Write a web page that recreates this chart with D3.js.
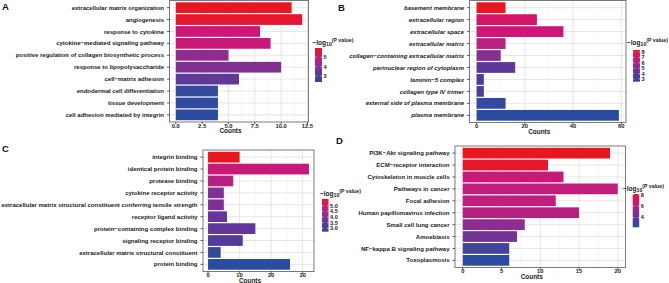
<!DOCTYPE html>
<html><head><meta charset="utf-8">
<script src="https://cdn.jsdelivr.net/npm/d3@7"></script>
<style>body{margin:0;background:#fff}svg{display:block;font-family:"Liberation Sans",Arial,sans-serif;font-weight:bold}</style>
</head><body><svg id="c" width="669" height="283"></svg>
<script>
// ---------- DATA ----------
const catsA = ["extracellular matrix organization","angiogenesis","response to cytokine","cytokine−mediated signaling pathway","positive regulation of collagen biosynthetic process","response to lipopolysaccharide","cell−matrix adhesion","endodermal cell differentiation","tissue development","cell adhesion mediated by integrin"];
const countsA = [11,12,8,9,5,10,6,4,4,4];
const logpA = [5.99,5.85,5.05,4.98,4.15,3.9,3.4,2.5,2.42,2.36];
const xTicksA = [0,2.5,5,7.5,10,12.5];
const xTickLabelsA = ["0.0","2.5","5.0","7.5","10.0","12.5"];
const legTicksA = [3,4,5];
const legLabelsA = ["3","4","5"];

const catsB = ["basement membrane","extracellular region","extracellular space","extracellular matrix","collagen−containing extracellular matrix","perinuclear region of cytoplasm","laminin−5 complex","collagen type IV trimer","external side of plasma membrane","plasma membrane"];
const countsB = [12,25,36,12,10,16,3,3,12,59];
const logpB = [8.4,7.2,6.9,6.4,5.2,4.1,3.9,3.7,2.7,2.5];
const xTicksB = [0,20,40,60];
const xTickLabelsB = ["0","20","40","60"];
const legTicksB = [3,4,5,6,7,8];
const legLabelsB = ["3","4","5","6","7","8"];

const catsC = ["integrin binding","identical protein binding","protease binding","cytokine receptor activity","extracellular matrix structural constituent conferring tensile strength","receptor ligand activity","protein−containing complex binding","signaling receptor binding","extracellular matrix structural constituent","protein binding"];
const countsC = [10,32,8,5,5,6,15,11,4,26];
const logpC = [5.6,4.8,4.6,3.9,3.85,3.6,3.55,3.4,2.8,2.7];
const xTicksC = [0,10,20,30];
const xTickLabelsC = ["0","10","20","30"];
const legTicksC = [3,3.5,4,4.5,5];
const legLabelsC = ["3.0","3.5","4.0","4.5","5.0"];

const catsD = ["PI3K−Akt signaling pathway","ECM−receptor interaction","Cytoskeleton in muscle cells","Pathways in cancer","Focal adhesion","Human papillomavirus infection","Small cell lung cancer","Amoebiasis","NF−kappa B signaling pathway","Toxoplasmosis"];
const countsD = [19,11,13,20,12,15,8,7,6,6];
const logpD = [8.1,7.9,6.5,6.3,6.2,6.1,5.1,4.4,3.0,2.3];
const xTicksD = [0,5,10,15,20];
const xTickLabelsD = ["0","5","10","15","20"];
const legTicksD = [4,6,8];
const legLabelsD = ["4","6","8"];

// ---------- COLOR ----------
const palette = d3.scaleLinear()
  .domain([0,0.25,0.5,0.75,1])
  .range(["#2B4B9E","#55399A","#922A8F","#CE1577","#E8171F"])
  .interpolate(d3.interpolateLab);

// ---------- LAYOUT ----------
const panels = [
 {letter:"A", lx:2, ly:10, cats:catsA, counts:countsA, logp:logpA, ticks:xTicksA, tickLabels:xTickLabelsA,
  x0:169.5, x1:308.5, y0:0.5, y1:122, italic:false,
  leg:{tx:312.5, ty:45, bx:315, bw:7, by0:82, by1:48, ticks:legTicksA, labels:legLabelsA}},
 {letter:"B", lx:338, ly:11, cats:catsB, counts:countsB, logp:logpB, ticks:xTicksB, tickLabels:xTickLabelsB,
  x0:469.5, x1:626, y0:0.5, y1:122.5, italic:true,
  leg:{tx:627, ty:44.5, bx:633, bw:7, by0:81.7, by1:50, ticks:legTicksB, labels:legLabelsB}},
 {letter:"C", lx:2, ly:152, cats:catsC, counts:countsC, logp:logpC, ticks:xTicksC, tickLabels:xTickLabelsC,
  x0:203, x1:314, y0:150, y1:271.5, italic:false,
  leg:{tx:320, ty:195.5, bx:322, bw:6.5, by0:231.7, by1:199, ticks:legTicksC, labels:legLabelsC}},
 {letter:"D", lx:336, ly:144, cats:catsD, counts:countsD, logp:logpD, ticks:xTicksD, tickLabels:xTickLabelsD,
  x0:455, x1:625.5, y0:146, y1:267.5, italic:false,
  leg:{tx:623, ty:190.5, bx:632.7, bw:6.5, by0:227.3, by1:194, ticks:legTicksD, labels:legLabelsD}}
];

const svg = d3.select("#c");
const textCol = "#1a1a1a";

panels.forEach(p => {
  const g = svg.append("g");
  const maxC = d3.max(p.counts);
  const x = d3.scaleLinear().domain([-0.05*maxC, 1.05*maxC]).range([p.x0, p.x1]);
  const y = d3.scalePoint().domain(p.cats).range([p.y0, p.y1]).padding(0.6);
  const step = y.step();
  const [lo, hi] = d3.extent(p.logp);
  const col = v => palette((v - lo) / (hi - lo));

  // minor grid
  const majorStep = p.ticks[1] - p.ticks[0];
  const minor = p.ticks.map(t => t + majorStep/2).concat([p.ticks[0]-majorStep/2])
     .filter(t => x(t) > p.x0 && x(t) < p.x1);
  g.selectAll(".mn").data(minor).enter().append("line")
    .attr("x1", d=>x(d)).attr("x2", d=>x(d)).attr("y1", p.y0).attr("y2", p.y1)
    .attr("stroke","#f1f1f1").attr("stroke-width",0.6);
  // major grid
  g.selectAll(".mj").data(p.ticks).enter().append("line")
    .attr("x1", d=>x(d)).attr("x2", d=>x(d)).attr("y1", p.y0).attr("y2", p.y1)
    .attr("stroke","#e3e3e3").attr("stroke-width",0.9);
  g.selectAll(".hg").data(p.cats).enter().append("line")
    .attr("x1", p.x0).attr("x2", p.x1).attr("y1", d=>y(d)).attr("y2", d=>y(d))
    .attr("stroke","#e3e3e3").attr("stroke-width",0.9);

  // bars
  g.selectAll(".bar").data(p.cats).enter().append("rect")
    .attr("x", x(0)).attr("y", d => y(d) - step*0.45)
    .attr("width", (d,i) => x(p.counts[i]) - x(0))
    .attr("height", step*0.9)
    .attr("fill", (d,i) => col(p.logp[i]));

  // border
  g.append("rect").attr("x", p.x0).attr("y", p.y0)
    .attr("width", p.x1-p.x0).attr("height", p.y1-p.y0)
    .attr("fill","none").attr("stroke","#7a7a7a").attr("stroke-width",1);

  // y ticks + labels
  g.selectAll(".yt").data(p.cats).enter().append("line")
    .attr("x1", p.x0-2.5).attr("x2", p.x0).attr("y1", d=>y(d)).attr("y2", d=>y(d))
    .attr("stroke","#333").attr("stroke-width",0.8);
  g.selectAll(".yl").data(p.cats).enter().append("text")
    .attr("x", p.x0-5.5).attr("y", d=>y(d)).attr("dy","0.35em")
    .attr("text-anchor","end").attr("font-size",6)
    .attr("font-style", p.italic ? "italic" : "normal")
    .attr("fill", textCol).text(d=>d);

  // x ticks + labels
  g.selectAll(".xt").data(p.ticks).enter().append("line")
    .attr("x1", d=>x(d)).attr("x2", d=>x(d)).attr("y1", p.y1).attr("y2", p.y1+2)
    .attr("stroke","#333").attr("stroke-width",0.8);
  g.selectAll(".xl").data(p.ticks).enter().append("text")
    .attr("x", d=>x(d)).attr("y", p.y1+5.8)
    .attr("text-anchor","middle").attr("font-size",5.8)
    .attr("fill", textCol).text((d,i)=>p.tickLabels[i]);
  g.append("text").attr("x", (p.x0+p.x1)/2 - 8.5).attr("y", p.y1+11.4)
    .attr("text-anchor","middle").attr("font-size",6.4).attr("fill", textCol).text("Counts");

  // letter
  svg.append("text").attr("x", p.lx).attr("y", p.ly).attr("font-size",9.5)
    .attr("fill","#111").text(p.letter);
});

// legends last
panels.forEach(p => {
  const L = p.leg;
  const g = svg.append("g");
  const [lo, hi] = d3.extent(p.logp);
  const ly = d3.scaleLinear().domain([lo, hi]).range([L.by0, L.by1]);
  const id = "grad" + p.letter;
  const grad = svg.append("defs").append("linearGradient").attr("id", id)
    .attr("x1",0).attr("y1",1).attr("x2",0).attr("y2",0);
  d3.range(0, 1.0001, 0.1).forEach(t => grad.append("stop")
    .attr("offset", t).attr("stop-color", palette(t)));
  g.append("rect").attr("x", L.bx).attr("y", L.by1).attr("width", L.bw)
    .attr("height", L.by0 - L.by1).attr("fill", `url(#${id})`);
  L.ticks.forEach((t,i) => {
    g.append("line").attr("x1", L.bx).attr("x2", L.bx+1.4).attr("y1", ly(t)).attr("y2", ly(t))
      .attr("stroke","#fff").attr("stroke-width",0.6);
    g.append("line").attr("x1", L.bx+L.bw-1.4).attr("x2", L.bx+L.bw).attr("y1", ly(t)).attr("y2", ly(t))
      .attr("stroke","#fff").attr("stroke-width",0.6);
    g.append("text").attr("x", L.bx+L.bw+1.5).attr("y", ly(t)).attr("dy","0.35em")
      .attr("font-size",5.6).attr("fill", textCol).text(L.labels[i]);
  });
  const tt = g.append("text").attr("x", L.tx).attr("y", L.ty).attr("font-size",6.5).attr("fill", textCol);
  tt.append("tspan").text("−log");
  tt.append("tspan").attr("font-size",5.2).attr("dy",1.2).text("10");
  tt.append("tspan").attr("font-size",5.2).attr("dy",-4.2).text("(P value)");
});
</script></body></html>
